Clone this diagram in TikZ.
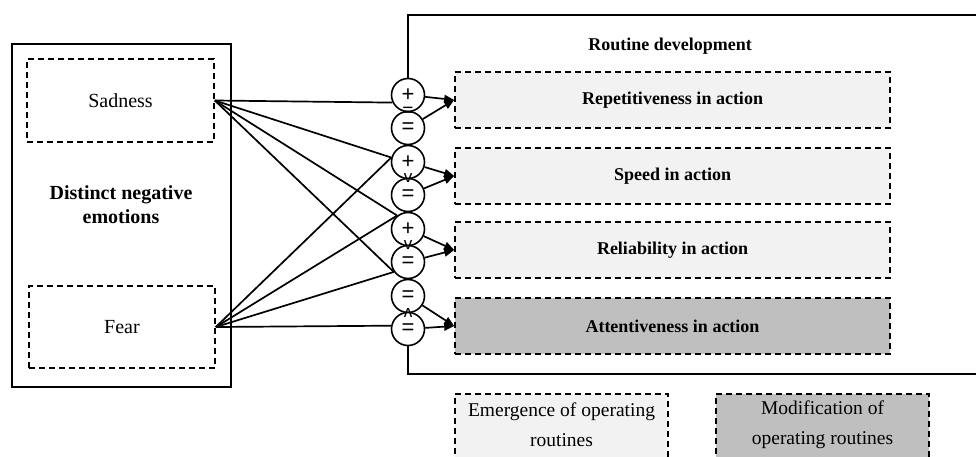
\documentclass[tikz,border=0pt]{standalone}
\usepackage{fontspec}
\setmainfont{Liberation Serif}
\newfontfamily\signfont{Liberation Sans}
\usetikzlibrary{arrows.meta,positioning}
\definecolor{lightfill}{HTML}{F2F2F2}
\definecolor{darkfill}{HTML}{BFBFBF}

\begin{document}
\begin{tikzpicture}[x=1pt, y=-1pt,
        every node/.style = {inner sep=0pt},
        dashbox/.style = {draw, dash pattern=on 6pt off 4pt, line width=1.6pt},
        emobox/.style = {dashbox, minimum width=187pt, minimum height=83pt,
            font=\fontsize{20}{24}\selectfont},
        actbox/.style = {dashbox, fill=lightfill, minimum width=435pt, minimum height=56pt,
            font=\bfseries\fontsize{18}{22}\selectfont},
        legbox/.style = {dashbox, fill=lightfill, minimum width=213pt, minimum height=80pt, anchor=north},
        legtext/.style = {align=center, font=\fontsize{19.5}{30}\selectfont},
        sign/.style = {draw, circle, fill=white, line width=1.6pt, minimum size=33pt,
            font=\signfont\fontsize{22}{22}\selectfont},
        rel/.style = {font=\signfont\fontsize{17}{17}\selectfont},
        link/.style = {line width=1.7pt},
        effect/.style = {link, -{Triangle[length=10pt, width=8pt]}}]
    \clip (0,0) rectangle (976,457);
    \useasboundingbox (0,0) rectangle (976,457);

    % emotions
    \node[draw, line width=1.7pt, minimum width=219pt, minimum height=343pt] (emotions) at (121.5,215.5) {};
    \node[align=center, font=\bfseries\fontsize{20}{24}\selectfont] (emolabel) at (121,205) {Distinct negative\\emotions};
    \node[emobox] (sadness) at (120.5,100.5) {Sadness};
    \node[emobox, minimum width=186pt, minimum height=82pt] (fear) at (122,327) {Fear};

    % routine development frame
    \coordinate (frametop) at (408,15);
    \coordinate (frametopright) at (990,15);
    \coordinate (framebot) at (408,374);
    \coordinate (framebotright) at (990,374);
    \node[font=\bfseries\fontsize{18}{22}\selectfont] (routlabel) at (670,46) {Routine development};

    \node[actbox] (repet) at (672.5,100) {Repetitiveness in action};
    \node[actbox] (speed) at (672.5,176) {Speed in action};
    \node[actbox] (reliab) at (672.5,250) {Reliability in action};
    \node[actbox, fill=darkfill] (attent) at (672.5,326) {Attentiveness in action};

    % signs
    \node[sign] (s1) at (408,95) {+};
    \node[sign] (s2) at (408,128) {=};
    \node[sign] (s3) at (408,162) {+};
    \node[sign] (s4) at (408,195) {=};
    \node[sign] (s5) at (408,229) {+};
    \node[sign] (s6) at (408,262) {=};
    \node[sign] (s7) at (408,296) {=};
    \node[sign] (s8) at (408,329) {=};

    \draw[link] (s1.north) -- (frametop) -- (frametopright);
    \draw[link] (s8.south) -- (framebot) -- (framebotright);

    \node[rel, font=\signfont\fontsize{19}{19}\selectfont] (r12) at (408,111.5) {=};
    \node[rel] (r34) at (408,178) {v};
    \node[rel] (r56) at (408,245) {v};
    \node[rel, rotate=180] (r78) at (408,313) {v};

    % links
    \draw[link] (sadness.east) -- (s1.206);
    \draw[link] (sadness.east) -- (s3.165);
    \draw[link] (sadness.east) -- (s5.129);
    \draw[link] (sadness.east) -- (s6.215);
    \draw[link] (fear.east) -- (s3.165);
    \draw[link] (fear.east) -- (s5.129);
    \draw[link] (fear.east) -- (s6.215);
    \draw[link] (fear.east) -- (s8.169);

    \draw[effect] (s1) -- (repet.west);
    \draw[effect] (s2) -- (repet.west);
    \draw[effect] (s3) -- (speed.west);
    \draw[effect] (s4) -- (speed.west);
    \draw[effect] (s5) -- (reliab.west);
    \draw[effect] (s6) -- (reliab.west);
    \draw[effect] (s7) -- (attent.west);
    \draw[effect] (s8) -- (attent.west);

    % legend
    \node[legbox] (emerge) at (561.5,393) {};
    \node[legtext] (emergetext) at (561.5,425) {Emergence of operating\\routines};
    \node[legbox, fill=darkfill] (modif) at (822.5,393) {};
    \node[legtext] (modiftext) at (822.5,425) {Modification of\\operating routines};
\end{tikzpicture}
\end{document}
